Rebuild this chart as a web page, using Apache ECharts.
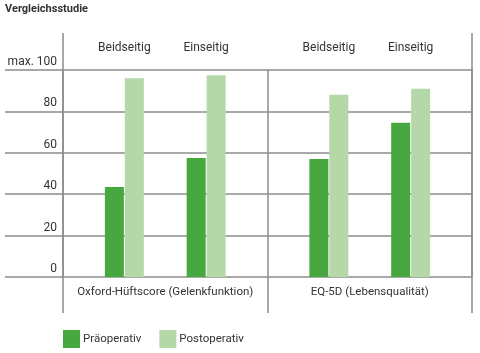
<!DOCTYPE html>
<html>
<head>
<meta charset="utf-8">
<script src="https://cdn.jsdelivr.net/npm/echarts@6/dist/echarts.min.js"></script>
<style>
  html, body { margin: 0; padding: 0; background: #fff; }
  #chart { width: 480px; height: 353px; }
</style>
</head>
<body>
<div id="chart"></div>
<script>
// groups shown on the bottom axis
const groups = ['Oxford-Hüftscore (Gelenkfunktion)', 'EQ-5D (Lebensqualität)'];
// sub categories shown at the top, two per group
const subCategories = ['Beidseitig', 'Einseitig', 'Beidseitig', 'Einseitig'];
const preValues = [43.5, 57.5, 57, 74.5];
const postValues = [96, 97.5, 88, 91];
const yTickLabels = ['0', '20', '40', '60', '80', 'max. 100'];

const FONT = 'Roboto, "Liberation Sans", sans-serif';
const GRID_COLOR = '#8c8c8c';
const TEXT_COLOR = '#333';

// each group is split into 5 slots; bars sit in slots 1 and 3
const SLOTS_PER_GROUP = 5;
const slotOfSub = [1, 3];
const slotLabels = [];
const preData = [];
const postData = [];
for (let g = 0; g < groups.length; g++) {
  for (let s = 0; s < SLOTS_PER_GROUP; s++) {
    const k = slotOfSub.indexOf(s);
    if (k >= 0) {
      const idx = g * 2 + k;
      slotLabels.push(subCategories[idx]);
      preData.push(preValues[idx]);
      postData.push(postValues[idx]);
    } else {
      slotLabels.push('');
      preData.push(null);
      postData.push(null);
    }
  }
}

const chart = echarts.init(document.getElementById('chart'));

const edgeLine = { show: true, lineStyle: { color: GRID_COLOR, width: 1.5 } };

const option = {
  animation: false,
  textStyle: { fontFamily: FONT },
  title: {
    text: 'Vergleichsstudie',
    left: 5,
    top: 4,
    padding: 0,
    textStyle: { fontFamily: FONT, fontSize: 11, fontWeight: 'bold', color: TEXT_COLOR }
  },
  legend: {
    data: ['Präoperativ', 'Postoperativ'],
    left: 63,
    top: 330,
    padding: 0,
    itemWidth: 17,
    itemHeight: 18,
    itemGap: 18,
    icon: 'rect',
    textStyle: { fontFamily: FONT, fontSize: 11.5, color: TEXT_COLOR, padding: [0, 0, 0, -2] }
  },
  grid: { left: 63, right: 8, top: 70, bottom: 76 },
  xAxis: [
    {
      type: 'category',
      position: 'top',
      data: slotLabels,
      axisLine: { show: false },
      axisTick: { show: false },
      axisLabel: {
        interval: 0,
        margin: 16,
        fontFamily: FONT,
        fontSize: 12,
        color: TEXT_COLOR
      },
      splitLine: { show: false }
    },
    {
      type: 'category',
      position: 'bottom',
      data: groups,
      axisLine: { show: false },
      axisTick: {
        show: true,
        length: 36,
        lineStyle: { color: GRID_COLOR, width: 1.5 }
      },
      axisLabel: {
        interval: 0,
        margin: 9,
        fontFamily: FONT,
        fontSize: 11.5,
        color: TEXT_COLOR
      },
      splitLine: edgeLine
    },
    {
      type: 'category',
      position: 'top',
      data: groups,
      axisLine: { show: false },
      axisTick: {
        show: true,
        length: 37,
        lineStyle: { color: GRID_COLOR, width: 1.5 }
      },
      axisLabel: { show: false },
      splitLine: { show: false }
    }
  ],
  yAxis: [
    {
      type: 'value',
      min: 0,
      max: 100,
      interval: 20,
      axisLine: edgeLine,
      axisTick: {
        show: true,
        length: 58,
        lineStyle: { color: GRID_COLOR, width: 1.5 }
      },
      axisLabel: {
        margin: 6,
        verticalAlign: 'bottom',
        padding: [0, 0, 2, 0],
        fontFamily: FONT,
        fontSize: 12,
        color: TEXT_COLOR,
        formatter: (v) => yTickLabels[v / 20]
      },
      splitLine: { show: true, lineStyle: { color: GRID_COLOR, width: 1.5 } }
    },
    {
      type: 'value',
      position: 'right',
      min: 0,
      max: 100,
      interval: 20,
      axisLine: edgeLine,
      axisTick: { show: false },
      axisLabel: { show: false },
      splitLine: { show: false }
    }
  ],
  series: [
    {
      name: 'Präoperativ',
      type: 'bar',
      xAxisIndex: 0,
      barWidth: 19,
      barGap: '5%',
      itemStyle: { color: '#46a83f' },
      data: preData
    },
    {
      name: 'Postoperativ',
      type: 'bar',
      xAxisIndex: 0,
      barWidth: 19,
      barGap: '5%',
      itemStyle: { color: '#b4d8a8' },
      data: postData
    }
  ]
};

chart.setOption(option);
</script>
</body>
</html>
